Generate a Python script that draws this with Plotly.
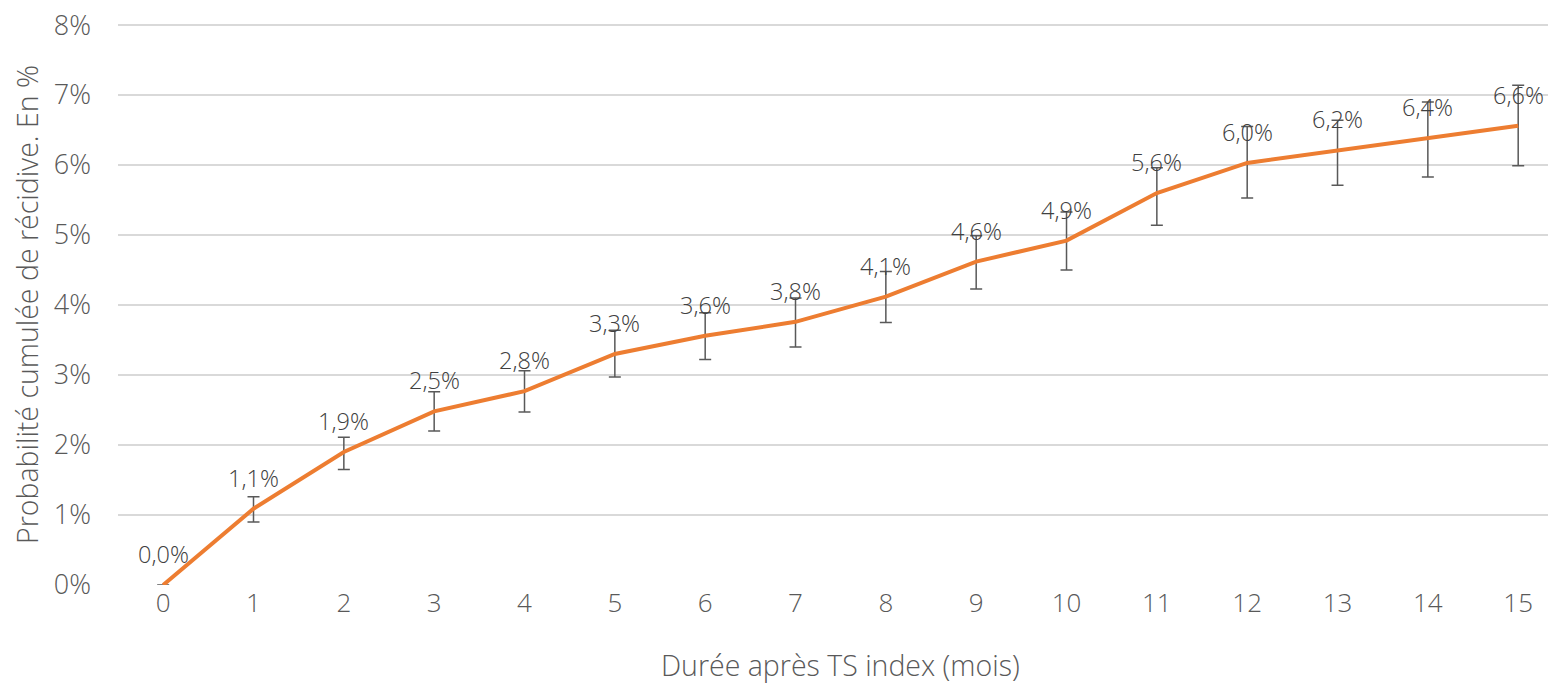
import plotly.graph_objects as go

# Months after the index suicide attempt
mois = list(range(16))

# Cumulative probability of recurrence (%)
proba = [0.0, 1.09, 1.90, 2.48, 2.77, 3.30, 3.56, 3.76, 4.12, 4.62,
         4.92, 5.60, 6.03, 6.21, 6.38, 6.56]

# Confidence interval bounds (%)
borne_haute = [0.0, 1.26, 2.11, 2.76, 3.06, 3.64, 3.89, 4.10, 4.48, 4.99,
               5.33, 5.96, 6.55, 6.64, 6.90, 7.14]
borne_basse = [0.0, 0.90, 1.65, 2.20, 2.47, 2.97, 3.22, 3.40, 3.75, 4.23,
               4.50, 5.14, 5.53, 5.71, 5.83, 5.99]

y_ticks = [0, 1, 2, 3, 4, 5, 6, 7, 8]
y_tick_labels = [f"{v}%" for v in y_ticks]

FONT = "Open Sans"
ORANGE = "#ED7D31"
GRID = "#d9d9d9"
TICK = "#595959"

err_plus = [h - p for h, p in zip(borne_haute, proba)]
err_minus = [p - b for p, b in zip(proba, borne_basse)]

fig = go.Figure()
fig.add_trace(go.Scatter(
    x=mois, y=proba, mode="lines",
    line=dict(color=ORANGE, width=4),
    error_y=dict(type="data", symmetric=False, array=err_plus,
                 arrayminus=err_minus, color="#595959",
                 thickness=1.5, width=6),
    showlegend=False, hoverinfo="skip",
))

# Value labels above each point, French decimal comma
for x, v in zip(mois, proba):
    fig.add_annotation(
        x=x, y=v, text=f"{v:.1f}".replace(".", ",") + "%",
        showarrow=False, yshift=31,
        font=dict(family=FONT, size=23.5, color="#404040", weight=300),
    )

# X axis title, centred on the full category span
fig.add_annotation(
    xref="paper", yref="paper", x=0.505, y=-0.143,
    xanchor="center", yanchor="middle",
    text="Durée après TS index (mois)", showarrow=False,
    font=dict(family=FONT, size=28.5, color=TICK, weight=300),
)

fig.update_layout(
    width=1548, height=684,
    paper_bgcolor="white", plot_bgcolor="white",
    margin=dict(l=118, r=0, t=24, b=99),
    font=dict(family=FONT, color=TICK, weight=300),
    xaxis=dict(
        range=[-0.5, 15.33], tickmode="array", tickvals=mois,
        ticktext=[str(m) for m in mois],
        showgrid=False, zeroline=False, showline=False, ticks="",
        tickfont=dict(family=FONT, size=26, color=TICK, weight=300),
    ),
    yaxis=dict(
        range=[0, 8.015], tickmode="array", tickvals=y_ticks,
        ticktext=y_tick_labels,
        showgrid=True, gridcolor=GRID, gridwidth=1.5,
        zeroline=False, showline=False, ticks="",
        ticklabelstandoff=26,
        tickfont=dict(family=FONT, size=27, color=TICK, weight=300),
        title=dict(text="Probabilité cumulée de récidive. En %",
                   font=dict(family=FONT, size=28.5, color=TICK, weight=300),
                   standoff=6),
    ),
)

fig.write_html("out.html")
